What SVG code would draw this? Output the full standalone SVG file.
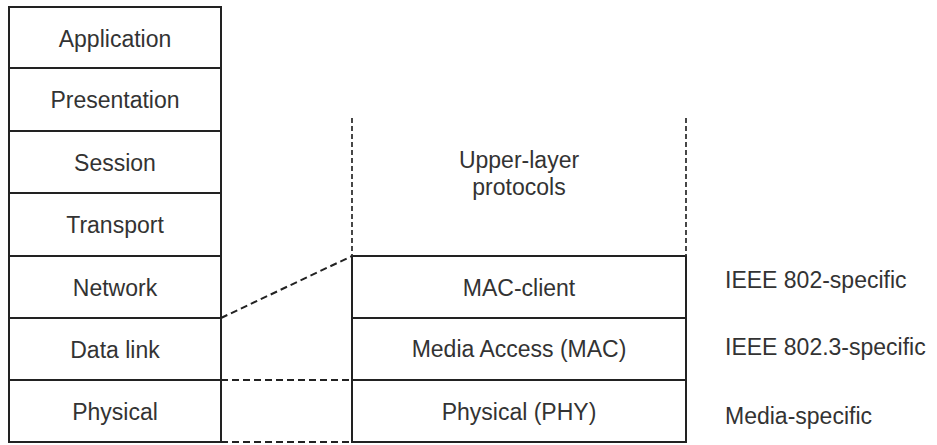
<svg xmlns="http://www.w3.org/2000/svg" width="937" height="445" viewBox="0 0 937 445">
<style>
.box{fill:#fff;stroke:#222;stroke-width:2}
.t{font-family:"Liberation Sans",Arial,sans-serif;font-size:23px;fill:#333;text-anchor:middle}
.l{font-family:"Liberation Sans",Arial,sans-serif;font-size:23px;fill:#333}
.d{fill:none;stroke:#222;stroke-width:2;stroke-dasharray:7 4}
.v{fill:none;stroke:#333;stroke-width:1.8;stroke-dasharray:5 3}
</style>
<rect width="937" height="445" fill="#fff"/>
<g id="osi">
<g id="application"><rect class="box" x="9" y="7" width="212" height="61"/><text class="t" x="115" y="47">Application</text></g>
<g id="presentation"><rect class="box" x="9" y="68" width="212" height="63"/><text class="t" x="115" y="108">Presentation</text></g>
<g id="session"><rect class="box" x="9" y="131" width="212" height="62"/><text class="t" x="115" y="171">Session</text></g>
<g id="transport"><rect class="box" x="9" y="193" width="212" height="63"/><text class="t" x="115" y="233">Transport</text></g>
<g id="network"><rect class="box" x="9" y="256" width="212" height="62"/><text class="t" x="115" y="296">Network</text></g>
<g id="datalink"><rect class="box" x="9" y="318" width="212" height="62"/><text class="t" x="115" y="358">Data link</text></g>
<g id="physical"><rect class="box" x="9" y="380" width="212" height="62"/><text class="t" x="115" y="420">Physical</text></g>
</g>
<g id="ieee">
<g id="upper"><text class="t" x="519" y="168">Upper-layer</text><text class="t" x="519" y="195">protocols</text></g>
<g id="macclient"><rect class="box" x="352" y="256" width="334" height="62"/><text class="t" x="519" y="296">MAC-client</text></g>
<g id="mac"><rect class="box" x="352" y="318" width="334" height="62"/><text class="t" x="519" y="357">Media Access (MAC)</text></g>
<g id="phy"><rect class="box" x="352" y="380" width="334" height="62"/><text class="t" x="519" y="420">Physical (PHY)</text></g>
</g>
<g id="labels">
<text class="l" x="725" y="288">IEEE 802-specific</text>
<text class="l" x="725" y="355">IEEE 802.3-specific</text>
<text class="l" x="725" y="424">Media-specific</text>
</g>
<g id="connectors">
<line class="v" x1="352" y1="118" x2="352" y2="256"/>
<line class="v" x1="686" y1="118" x2="686" y2="256"/>
<line class="d" x1="221" y1="318" x2="352" y2="256"/>
<line class="d" x1="221" y1="380" x2="352" y2="380"/>
<line class="d" x1="221" y1="442" x2="352" y2="442"/>
</g>
</svg>
